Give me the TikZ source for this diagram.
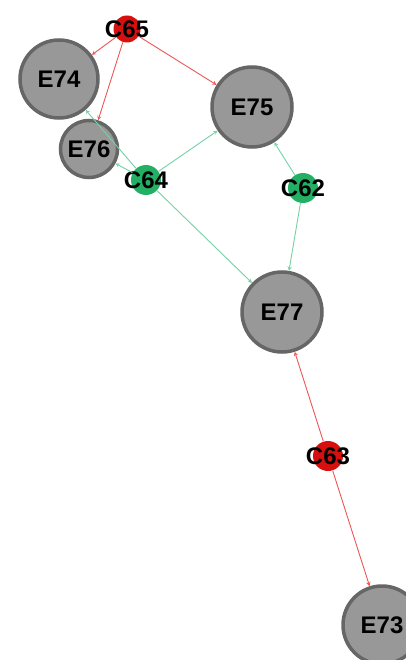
\documentclass[tikz,border=0pt]{standalone}
\usepackage{fontspec}
\setmainfont{Liberation Sans}
\usetikzlibrary{arrows}
\definecolor{cred}{RGB}{215,15,15}
\definecolor{cgreen}{RGB}{35,175,100}
\definecolor{ered}{RGB}{238,85,85}
\definecolor{egreen}{RGB}{115,210,165}
\definecolor{efill}{RGB}{152,152,152}
\definecolor{eline}{RGB}{102,102,102}

\begin{document}
\begin{tikzpicture}[>=stealth, x=1pt, y=-1pt]
    \tikzstyle{event} = [draw=eline, line width=3.5pt, fill=efill, circle, inner sep=0pt, font=\bfseries\fontsize{24}{24}\selectfont]
    \tikzstyle{cause} = [circle, minimum size=30pt, inner sep=0pt]
    \tikzstyle{every label} = [font=\bfseries\fontsize{24}{24}\selectfont, inner sep=0pt]
    \useasboundingbox (0,0) rectangle (405,660);
    \path[->, line width=0.9pt]
        node[event, minimum size=78pt] (E74) at (59,79) {E74}
        node[event, minimum size=80pt] (E75) at (252,107) {E75}
        node[event, minimum size=57pt] (E76) at (89,149) {E76}
        node[event, minimum size=80pt] (E77) at (282,312) {E77}
        node[event, minimum size=78pt] (E73) at (382,625) {E73}
        node[cause, fill=cred, minimum size=27pt, label=center:C65] (C65) at (127,29) {}
        node[cause, fill=cgreen, label=center:C64] (C64) at (146,180) {}
        node[cause, fill=cgreen, label=center:C62] (C62) at (303,188) {}
        node[cause, fill=cred, label=center:C63] (C63) at (328,456) {}
        (C65) edge[ered] (E74)
        (C65) edge[ered] (E76)
        (C65) edge[ered] (E75)
        (C64) edge[egreen] (E74)
        (C64) edge[egreen] (E76)
        (C64) edge[egreen] (E75)
        (C64) edge[egreen] (E77)
        (C62) edge[egreen] (E75)
        (C62) edge[egreen] (E77)
        (C63) edge[ered] (E77)
        (C63) edge[ered] (E73)
        ;
\end{tikzpicture}
\end{document}
